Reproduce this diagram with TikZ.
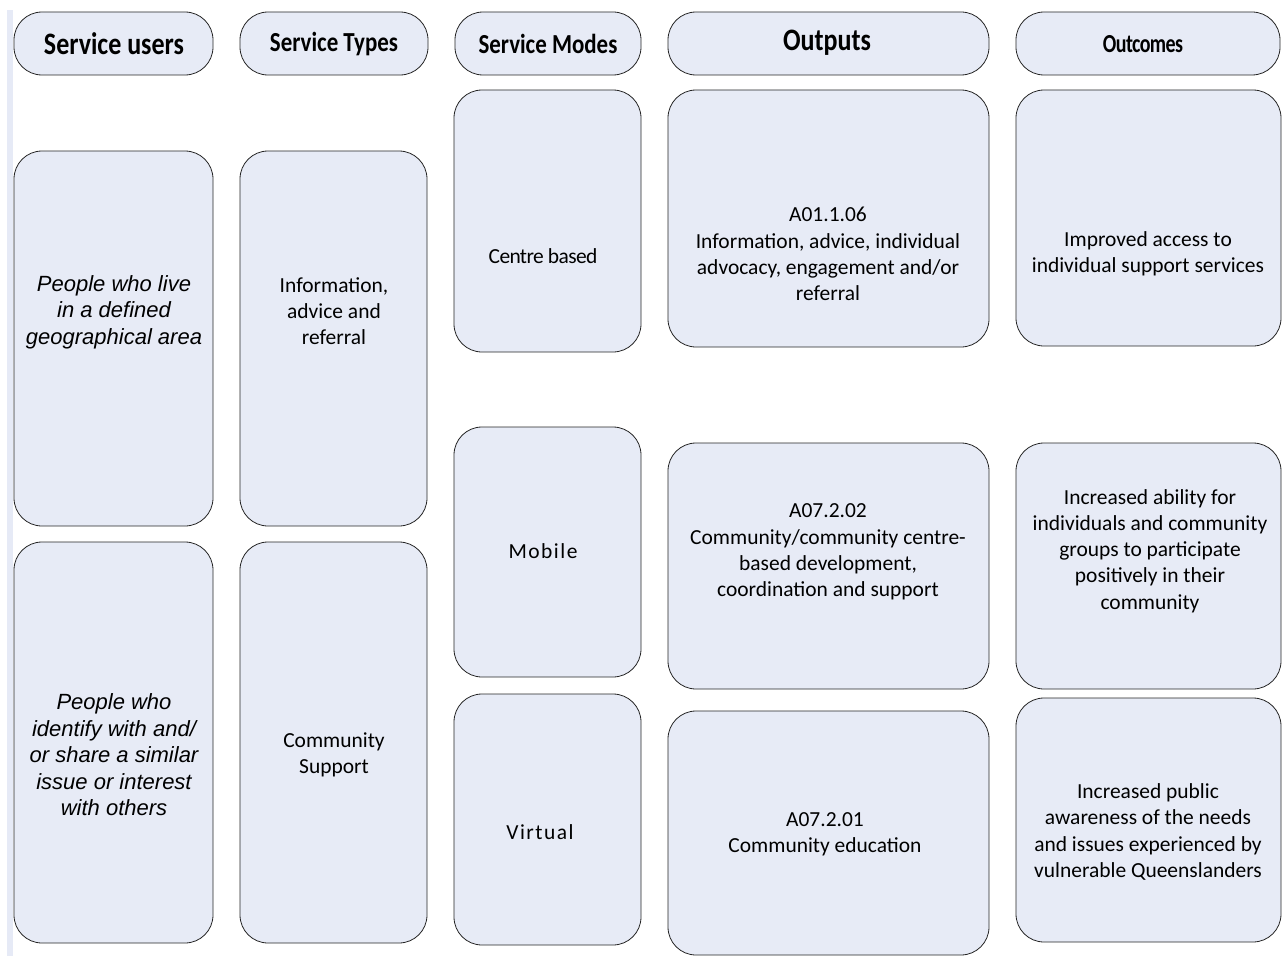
\documentclass[tikz,border=0pt]{standalone}
\usepackage{fontspec}
\setmainfont{Carlito}
\newfontfamily\arialf{Liberation Sans}
\newfontfamily\calwide[LetterSpace=7]{Carlito}
\newfontfamily\calnarrow[LetterSpace=-3]{Carlito}
\definecolor{boxfill}{HTML}{E7EBF6}
\definecolor{barfill}{HTML}{E6EAF6}
\tikzset{
  pane/.style={draw=black!85, line width=0.6pt, fill=boxfill, rounded corners=21pt},
  body/.style={align=center, font=\fontsize{16.1}{19.7}\selectfont, inner sep=0pt},
  ital/.style={align=center, font=\arialf\itshape\fontsize{16.5}{19.9}\selectfont, inner sep=0pt},
  head/.style={align=center, inner sep=0pt},
}
\newcommand{\pbox}[5]{\path[pane] (#2,#3) rectangle (#4,#5) coordinate (#1-br); \node[inner sep=0pt] (#1) at ({(#2+#4)/2},{(#3+#5)/2}) {};}
\begin{document}
\begin{tikzpicture}[x=0.75pt,y=-0.75pt]
\useasboundingbox (0,0) rectangle (1282,956);
\fill[barfill] (7,10) rectangle (13,956);
% headers
\pbox{h1}{14}{12}{213}{75}
\pbox{h2}{240}{12}{428}{75}
\pbox{h3}{455}{12}{641}{75}
\pbox{h4}{668}{12}{989}{75}
\pbox{h5}{1016}{12}{1280}{75}
\node[head] (h1t) at (114,44) {\scalebox{1}[1.2]{\fontsize{19.5}{22}\selectfont\bfseries Service users}};
\node[head] (h2t) at (334,44) {\scalebox{1}[1.2]{\fontsize{17.2}{20}\selectfont\bfseries Service Types}};
\node[head] (h3t) at (548,44) {\scalebox{1}[1.2]{\fontsize{17.2}{20}\selectfont\bfseries Service Modes}};
\node[head] (h4t) at (827,43) {\scalebox{1}[1.2]{\fontsize{19.5}{22}\selectfont\bfseries Outputs}};
\node[head] (h5t) at (1143,44) {\scalebox{1}[1.3]{\fontsize{15}{18}\selectfont\bfseries\calnarrow Outcomes}};
% column 1
\pbox{u1}{14}{151}{213}{526}
\pbox{u2}{14}{542}{213}{943}
\node[ital] (u1t) at (114,312) {People who live\\in a defined\\geographical area};
\node[ital] (u2t) at (114,755) {People who\\identify with and/\\or share a similar\\issue or interest\\with others};
% column 2
\pbox{t1}{240}{151}{427}{526}
\pbox{t2}{240}{542}{427}{943}
\node[body] (t1t) at (334,311) {Information,\\advice and\\referral};
\node[body] (t2t) at (334,755) {Community\\Support};
% column 3
\pbox{m1}{454}{90}{641}{352}
\pbox{m2}{454}{427}{641}{677}
\pbox{m3}{454}{694}{641}{945}
\node[body] (m1t) at (543,256) {\calnarrow Centre based};
\node[body] (m2t) at (543,551) {\calwide Mobile};
\node[body] (m3t) at (540,832) {\calwide Virtual};
% column 4
\pbox{o1}{668}{90}{989}{347}
\pbox{o2}{668}{443}{989}{689}
\pbox{o3}{668}{711}{989}{955}
\node[body] (o1t) at (828,254) {A01.1.06\\Information, advice, individual\\advocacy, engagement and/or\\referral};
\node[body] (o2t) at (828,552) {A07.2.02\\Community/community centre-\\based development,\\coordination and support};
\node[body] (o3t) at (825,834) {A07.2.01\\Community education};
% column 5
\pbox{c1}{1016}{90}{1281}{346}
\pbox{c2}{1016}{443}{1281}{689}
\pbox{c3}{1016}{698}{1281}{942}
\node[body] (c1t) at (1148,254) {Improved access to\\individual support services};
\node[body] (c2t) at (1150,551) {Increased ability for\\individuals and community\\groups to participate\\positively in their\\community};
\node[body] (c3t) at (1148,832) {Increased public\\awareness of the needs\\and issues experienced by\\vulnerable Queenslanders};
\end{tikzpicture}
\end{document}
